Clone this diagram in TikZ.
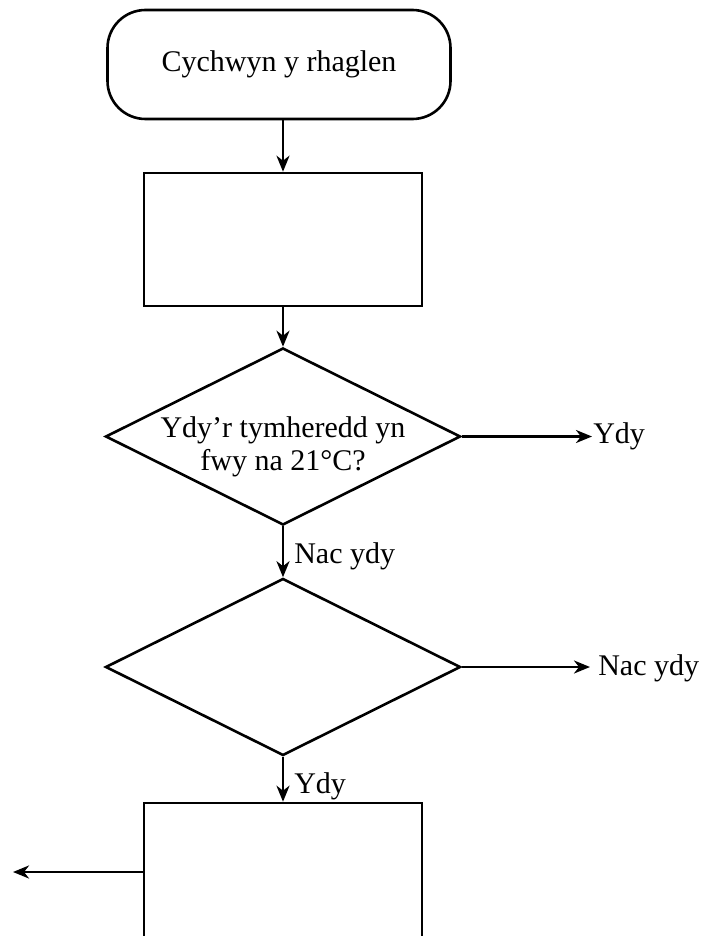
\documentclass[tikz,border=0pt]{standalone}
\usepackage{fontspec}
\setmainfont{Liberation Serif}
\usetikzlibrary{shapes.geometric,arrows.meta}
\begin{document}
\begin{tikzpicture}[x=1pt,y=-1pt,
  line width=2.6pt,
  every node/.style={font=\fontsize{30}{33}\selectfont},
  startbox/.style={draw,rectangle,rounded corners=38pt,minimum width=343pt,minimum height=109pt,inner sep=0pt},
  procbox/.style={draw,rectangle,minimum width=278pt,inner sep=0pt},
  decbox/.style={draw,diamond,minimum width=355pt,minimum height=177pt,inner sep=0pt},
  lbl/.style={inner sep=0pt,anchor=base west},
  arr/.style={-{Stealth[length=16pt,width=13pt,inset=5pt]}}
]
\useasboundingbox (0,0) rectangle (704,936);
\clip (0,0) rectangle (704,936);
\fill[white] (0,0) rectangle (704,936);

\node[startbox] (start) at (279,64.5) {Cychwyn y rhaglen};
\node[procbox,minimum height=133pt] (p1) at (283,239.5) {};
\node[decbox] (d1) at (283,436.5) {};
\node[align=center,inner sep=0pt] (q1) at (283,447) {Ydy’r tymheredd yn\\fwy na 21°C?};
\node[decbox] (d2) at (283,667) {};
\node[procbox,minimum height=160pt] (p2) at (283,883) {};

\node[lbl] (yes1) at (592,443) {Ydy};
\node[lbl] (no2) at (597,675) {Nac ydy};
\node[lbl] (no1) at (293,563) {Nac ydy};
\node[lbl] (yes2) at (293,793) {Ydy};
\coordinate (out) at (13,872);

\draw[arr] (p1.north |- start.south) -- (p1.north);
\draw[arr] (p1.south) -- (d1.north);
\draw[arr] (d1.east) -- (d1.east -| yes1.west);
\draw[arr] (d1.south) -- (d2.north);
\draw[arr,shorten >=7pt] (d2.east) -- (d2.east -| no2.west);
\draw[arr] (d2.south) -- (p2.north);
\draw[arr] (p2.west |- out) -- (out);
\end{tikzpicture}
\end{document}
